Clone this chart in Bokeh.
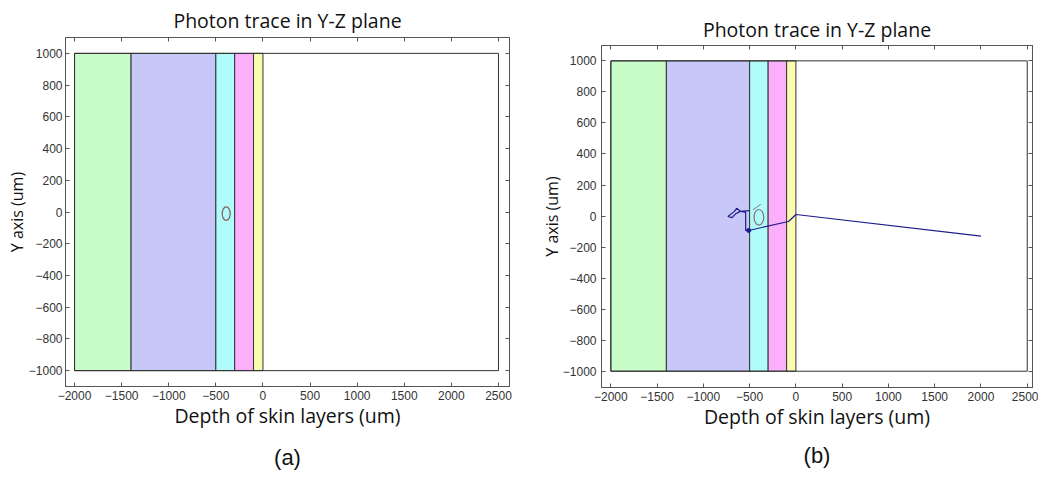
from bokeh.plotting import figure
from bokeh.models import LinearAxis, FixedTicker, Title
from bokeh.layouts import row, column
from bokeh.embed import file_html
from bokeh.resources import INLINE

# ---- data ----
layer_left = [-2000, -1400, -500, -300, -100]
layer_right = [-1400, -500, -300, -100, 0]
layer_colors = ["#c8fcc8", "#c8c8f8", "#b0fcfc", "#fcb0fc", "#fcfcb0"]
box_left, box_right = [-2000], [2500]
box_bottom, box_top = [-1000], [1000]
x_ticks = [-2000, -1500, -1000, -500, 0, 500, 1000, 1500, 2000, 2500]
y_ticks = [-1000, -800, -600, -400, -200, 0, 200, 400, 600, 800, 1000]

# detector ring (panel a and b)
ring_a_x, ring_a_y, ring_a_w, ring_a_h = [-390], [-10], [85], [85]
ring_b_x, ring_b_y, ring_b_w, ring_b_h = [-400], [-8], [105], [100]

# photon trace (panel b)
trace_x = [2000, 0, -80, -510, -543, -543, -600, -640, -665, -735, -690, -650, -600, -507]
trace_y = [-130, 10, -35, -93, -93, 24, 31, 50, 30, -3, -10, 15, 30, 35]
trace2_x = [-465, -380]
trace2_y = [40, 75]

TITLE = "Photon trace in Y-Z plane"
XLABEL = "Depth of skin layers (um)"
YLABEL = "Y axis (um)"


def make_panel(tag, fw, fh, bl, br, bt, bb, xr, yr, title_standoff, tag_standoff,
               ylab_standoff, ytick_standoff):
    p = figure(frame_width=fw, frame_height=fh, x_range=xr, y_range=yr,
               output_backend="svg", toolbar_location=None,
               min_border_left=bl, min_border_right=br,
               min_border_top=bt, min_border_bottom=bb,
               background_fill_color="white", border_fill_color="white")
    p.grid.visible = False
    p.outline_line_color = "#555555"
    p.outline_line_width = 1

    p.title.text = TITLE
    p.title.align = "center"
    p.title.vertical_align = "top"
    p.title.text_font = "Open Sans"
    p.title.text_font_size = "19.5px"
    p.title.text_font_style = "normal"
    p.title.text_color = "#111111"
    p.title.standoff = title_standoff

    for ax in (p.xaxis[0], p.yaxis[0]):
        ax.major_tick_in = 4
        ax.major_tick_out = 0
        ax.minor_tick_line_color = None
        ax.axis_line_color = "#555555"
        ax.major_tick_line_color = "#555555"
        ax.major_label_text_font = "Liberation Sans"
        ax.major_label_text_font_size = "12px"
        ax.major_label_text_color = "#333333"
        ax.axis_label_text_font = "Open Sans"
        ax.axis_label_text_font_style = "normal"
        ax.axis_label_text_color = "#111111"
    p.xaxis[0].axis_label_text_font_size = "19.5px"
    p.yaxis[0].axis_label_text_font_size = "16px"
    p.xaxis[0].ticker = FixedTicker(ticks=x_ticks)
    p.yaxis[0].ticker = FixedTicker(ticks=y_ticks)
    p.xaxis[0].axis_label = XLABEL
    p.yaxis[0].axis_label = YLABEL
    p.xaxis[0].major_label_standoff = 4
    p.xaxis[0].axis_label_standoff = -1
    p.yaxis[0].major_label_standoff = ytick_standoff
    p.yaxis[0].axis_label_standoff = ylab_standoff

    for loc, tk in (("above", x_ticks), ("right", y_ticks)):
        ax = LinearAxis(ticker=FixedTicker(ticks=tk), major_tick_in=4, major_tick_out=0,
                        minor_tick_line_color=None, major_label_text_font_size="1px",
                        major_label_overrides={t: "" for t in tk},
                        major_label_standoff=0, axis_line_color="#555555",
                        major_tick_line_color="#555555")
        p.add_layout(ax, loc)

    p.add_layout(Title(text=tag, align="center", text_font="Liberation Sans",
                       text_font_size="22px", text_font_style="normal",
                       text_color="#111111", standoff=tag_standoff), "below")

    p.quad(left=layer_left, right=layer_right, bottom=-1000, top=1000,
           fill_color=layer_colors, line_color="#333333", line_width=1)
    p.quad(left=box_left, right=box_right, bottom=box_bottom, top=box_top,
           fill_color=None, line_color="#333333", line_width=1)
    return p


p1 = make_panel("(a)", 444, 349, 65, 10, 37, 92, (-2096, 2617), (-1100, 1100), 4, 23, -2, 3)
p1.ellipse(x=ring_a_x, y=ring_a_y, width=ring_a_w, height=ring_a_h,
           fill_color=None, line_color="#8c5a5a", line_width=1.2)

p2 = make_panel("(b)", 431, 342, 82, 6, 45, 91, (-2101, 2557), (-1105, 1099), 1, 17, -3, 5)
p2.ellipse(x=ring_b_x, y=ring_b_y, width=ring_b_w, height=ring_b_h,
           fill_color=None, line_color="#8c6a6a", line_width=1.2)
p2.line(trace_x, trace_y, line_color="#1c1c8a", line_width=1.2)
p2.line(trace2_x, trace2_y, line_color="#7a7a8a", line_width=1)
p2.scatter([trace_x[3]], [trace_y[3]], size=4, color="#1c1c8a")

layout = row(column(p1), column(p2), spacing=0)
open("out.html", "w").write(file_html(layout, INLINE))
